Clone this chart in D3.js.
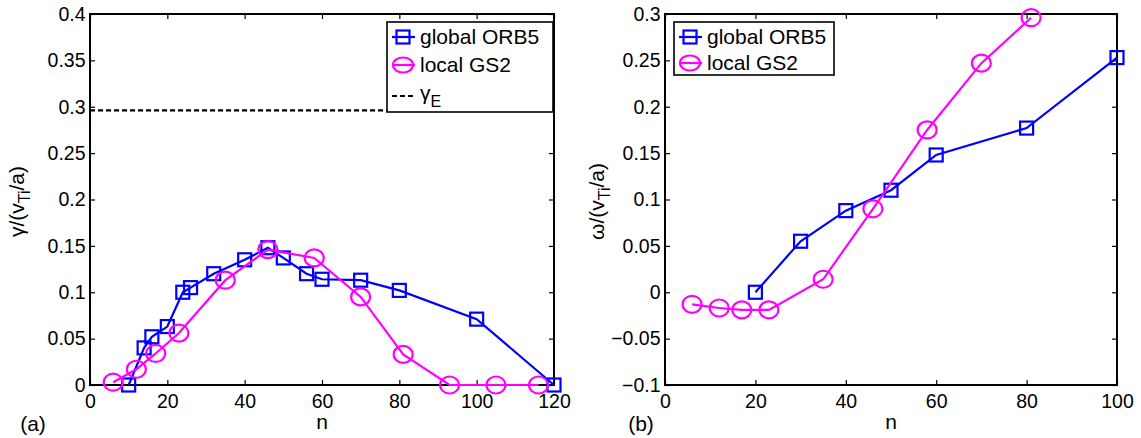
<!DOCTYPE html>
<html>
<head>
<meta charset="utf-8">
<script src="https://cdn.jsdelivr.net/npm/d3@7"></script>
<style>
  body { margin: 0; background: #fff; }
  text { font-family: "Liberation Sans", Arial, Helvetica, sans-serif; }
</style>
</head>
<body>
<svg id="chart" width="1141" height="438"></svg>
<script>
// growth rate panel (a)
var orbN_a = [10, 14, 16, 20, 24, 26, 32, 40, 46, 50, 56, 60, 70, 80, 100, 120];
var orbG_a = [0, 0.04, 0.052, 0.063, 0.1, 0.105, 0.12, 0.135, 0.148, 0.137, 0.12, 0.114, 0.113, 0.102, 0.071, 0];
var gsN_a = [6, 12, 17, 23, 35, 46, 58, 70, 81, 93, 105, 116];
var gsG_a = [0.003, 0.017, 0.034, 0.056, 0.113, 0.146, 0.137, 0.095, 0.033, 0, 0, 0];
var gammaE = 0.296;

// frequency panel (b)
var orbN_b = [20, 30, 40, 50, 60, 80, 100];
var orbW_b = [0, 0.055, 0.088, 0.11, 0.148, 0.177, 0.253];
var gsN_b = [6, 12, 17, 23, 35, 46, 58, 70, 81];
var gsW_b = [-0.013, -0.017, -0.019, -0.019, 0.014, 0.09, 0.175, 0.247, 0.296];

var xTicks_a = [0, 20, 40, 60, 80, 100, 120];
var yTicks_a = [0, 0.05, 0.1, 0.15, 0.2, 0.25, 0.3, 0.35, 0.4];
var xTicks_b = [0, 20, 40, 60, 80, 100];
var yTicks_b = [-0.1, -0.05, 0, 0.05, 0.1, 0.15, 0.2, 0.25, 0.3];

var BLUE = "#0000ff", MAGENTA = "#ff00ff";
var fs = 19.5;   // tick labels
var fsL = 21;    // legend + axis labels

var svg = d3.select("#chart");

function fmt(d) {
    var s = String(+d.toFixed(2));
    return s.replace("-", "\u2212");
}

function drawPanel(p) {
    var x = d3.scaleLinear().domain(p.xDomain).range([p.left, p.right]);
    var y = d3.scaleLinear().domain(p.yDomain).range([p.bottom, p.top]);
    var g = svg.append("g");

    // inward ticks on all four sides (matlab box)
    g.append("g")
        .attr("transform", "translate(0," + p.bottom + ")")
        .call(d3.axisBottom(x).tickValues(p.xTicks).tickSize(-5).tickPadding(9).tickFormat(fmt));
    g.append("g")
        .attr("transform", "translate(0," + p.top + ")")
        .call(d3.axisTop(x).tickValues(p.xTicks).tickSize(-5).tickFormat(""));
    g.append("g")
        .attr("transform", "translate(" + p.left + ",0)")
        .call(d3.axisLeft(y).tickValues(p.yTicks).tickSize(-5).tickPadding(4.5).tickFormat(fmt));
    g.append("g")
        .attr("transform", "translate(" + p.right + ",0)")
        .call(d3.axisRight(y).tickValues(p.yTicks).tickSize(-5).tickFormat(""));

    g.selectAll(".domain").remove();
    g.selectAll(".tick line").attr("stroke", "#000").attr("stroke-width", 1.2);
    g.selectAll(".tick text").attr("fill", "#000").style("font-size", fs + "px");

    g.append("rect")
        .attr("x", p.left).attr("y", p.top)
        .attr("width", p.right - p.left).attr("height", p.bottom - p.top)
        .attr("fill", "none").attr("stroke", "#000").attr("stroke-width", 2);

    if (p.hline != null) {
        g.append("line")
            .attr("x1", x(p.xDomain[0])).attr("x2", x(p.xDomain[1]))
            .attr("y1", y(p.hline)).attr("y2", y(p.hline))
            .attr("stroke", "#000").attr("stroke-width", 2.2)
            .attr("stroke-dasharray", "5,3");
    }

    var line = d3.line().x(function (d) { return x(d[0]); }).y(function (d) { return y(d[1]); });

    p.series.forEach(function (s) {
        var pts = d3.zip(s.n, s.v);
        g.append("path")
            .datum(pts)
            .attr("d", line)
            .attr("fill", "none")
            .attr("stroke", s.color)
            .attr("stroke-width", 2.2);
        if (s.marker == "square") {
            g.selectAll(null).data(pts).enter().append("rect")
                .attr("x", function (d) { return x(d[0]) - 6.5; })
                .attr("y", function (d) { return y(d[1]) - 6.5; })
                .attr("width", 13).attr("height", 13)
                .attr("fill", "none").attr("stroke", s.color).attr("stroke-width", 2.2);
        } else {
            g.selectAll(null).data(pts).enter().append("ellipse")
                .attr("cx", function (d) { return x(d[0]); })
                .attr("cy", function (d) { return y(d[1]); })
                .attr("rx", 9.5).attr("ry", 8.5)
                .attr("fill", "none").attr("stroke", s.color).attr("stroke-width", 2.2);
        }
    });

    // axis labels
    g.append("text")
        .attr("x", (p.left + p.right) / 2).attr("y", 429)
        .attr("text-anchor", "middle").style("font-size", fsL + "px")
        .text("n");
    g.append("text")
        .attr("x", p.tagX).attr("y", 431)
        .attr("text-anchor", "middle").style("font-size", fsL + "px")
        .text(p.tag);

    var yl = g.append("text")
        .attr("transform", "translate(" + p.ylabelX + "," + ((p.top + p.bottom) / 2 + 2) + ") rotate(-90)")
        .attr("text-anchor", "middle").style("font-size", fsL + "px");
    yl.append("tspan").text(p.ylabelSym + "/(v");
    yl.append("tspan").attr("dy", 6).style("font-size", "16px").text("Ti");
    yl.append("tspan").attr("dy", -6).text("/a)");

    // legend
    var L = p.legend;
    g.append("rect")
        .attr("x", L.x).attr("y", L.y).attr("width", L.w).attr("height", L.h)
        .attr("fill", "#fff").attr("stroke", "#000").attr("stroke-width", 1.6);
    L.items.forEach(function (it, i) {
        var cy = L.y + 15 + i * L.step;
        var mx = L.x + 16;
        var lg = g.append("line")
            .attr("x1", mx - 11).attr("x2", mx + 12)
            .attr("y1", cy).attr("y2", cy)
            .attr("stroke", it.color).attr("stroke-width", 2.2);
        if (it.dash) lg.attr("stroke-dasharray", "5,3").attr("y1", cy + 3).attr("y2", cy + 3);
        if (it.marker == "square") {
            g.append("rect").attr("x", mx - 6.5).attr("y", cy - 6.5).attr("width", 13).attr("height", 13)
                .attr("fill", "none").attr("stroke", it.color).attr("stroke-width", 2.2);
        } else if (it.marker == "circle") {
            g.append("ellipse").attr("cx", mx).attr("cy", cy).attr("rx", 10).attr("ry", 7.5)
                .attr("fill", "none").attr("stroke", it.color).attr("stroke-width", 2.2);
        }
        var t = g.append("text").attr("x", mx + 17).attr("y", cy).attr("dy", "0.35em")
            .style("font-size", fsL + "px");
        if (it.sub) {
            t.append("tspan").text(it.label);
            t.append("tspan").attr("dy", 7).style("font-size", "16px").text(it.sub);
        } else {
            t.text(it.label);
        }
    });
}

drawPanel({
    left: 90, right: 554, top: 14, bottom: 385,
    xDomain: [0, 120], yDomain: [0, 0.4],
    xTicks: xTicks_a, yTicks: yTicks_a,
    hline: gammaE,
    series: [
        { n: orbN_a, v: orbG_a, color: BLUE, marker: "square" },
        { n: gsN_a, v: gsG_a, color: MAGENTA, marker: "circle" }
    ],
    tag: "(a)", tagX: 33,
    ylabelSym: "\u03b3", ylabelX: 24,
    legend: {
        x: 387, y: 22, w: 166, h: 90, step: 28,
        items: [
            { label: "global ORB5", color: BLUE, marker: "square" },
            { label: "local GS2", color: MAGENTA, marker: "circle" },
            { label: "\u03b3", sub: "E", color: "#000", dash: true }
        ]
    }
});

drawPanel({
    left: 665, right: 1117, top: 14, bottom: 385,
    xDomain: [0, 100], yDomain: [-0.1, 0.3],
    xTicks: xTicks_b, yTicks: yTicks_b,
    hline: null,
    series: [
        { n: orbN_b, v: orbW_b, color: BLUE, marker: "square" },
        { n: gsN_b, v: gsW_b, color: MAGENTA, marker: "circle" }
    ],
    tag: "(b)", tagX: 641,
    ylabelSym: "\u03c9", ylabelX: 604,
    legend: {
        x: 674, y: 22, w: 160, h: 53, step: 26,
        items: [
            { label: "global ORB5", color: BLUE, marker: "square" },
            { label: "local GS2", color: MAGENTA, marker: "circle" }
        ]
    }
});
</script>
</body>
</html>
